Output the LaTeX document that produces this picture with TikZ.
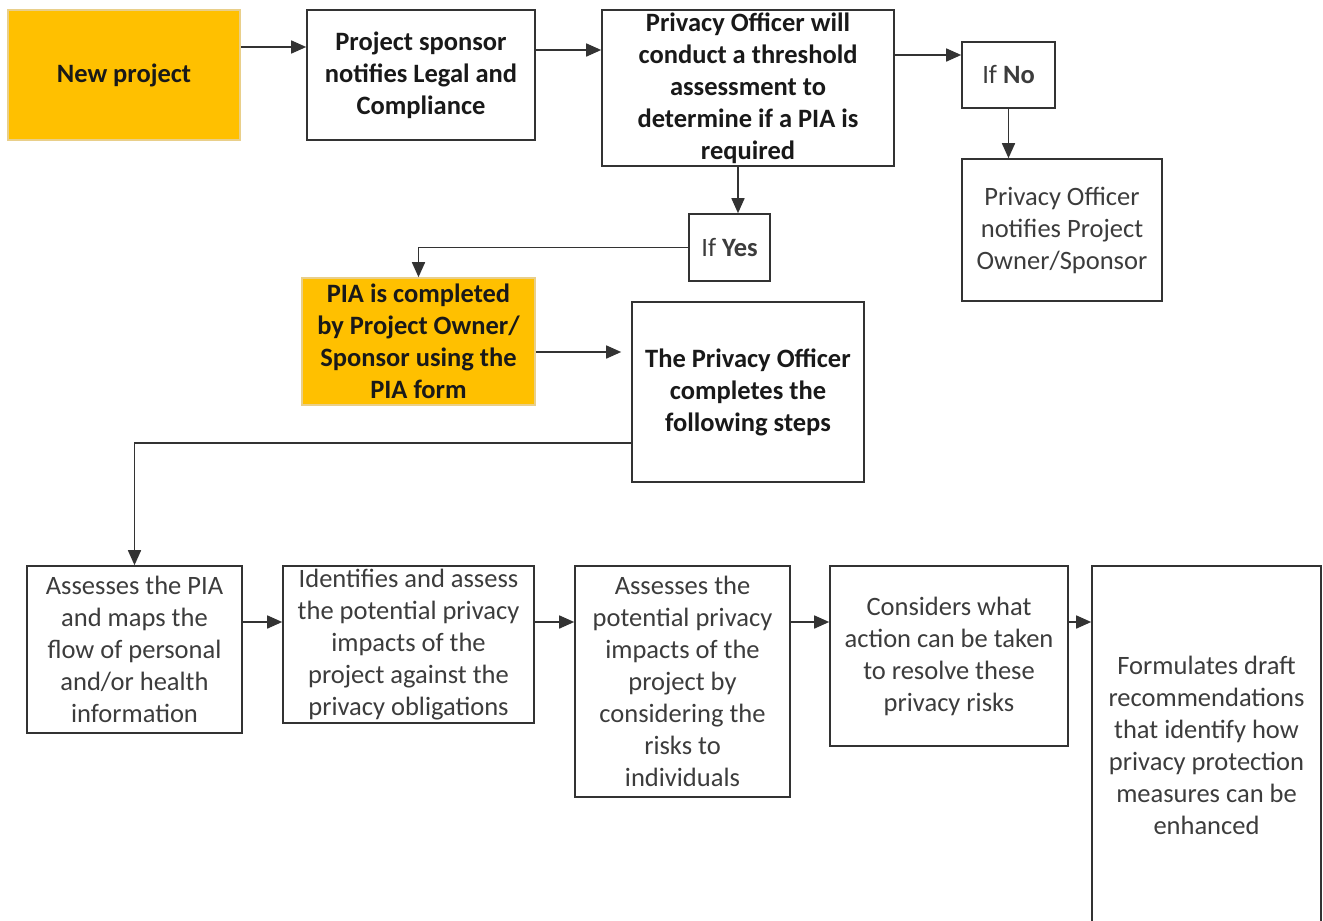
\documentclass[tikz,border=0pt]{standalone}
\usepackage{fontspec}
\setmainfont{Carlito}
\usetikzlibrary{arrows.meta}

\definecolor{piaorange}{HTML}{FFC000}
\definecolor{piaedge}{HTML}{E9CF8A}
\definecolor{lineclr}{HTML}{333333}
\definecolor{txtclr}{HTML}{3C3C3C}

\begin{document}
\begin{tikzpicture}[
    x=1pt, y=-1pt,
    box/.style={
        rectangle,
        draw=lineclr,
        line width=1.6pt,
        align=center,
        inner sep=0pt,
        text=txtclr,
        font=\fontsize{26.5}{32}\selectfont
    },
    boldbox/.style={
        box,
        text=black!90,
        font=\fontsize{26.5}{32}\selectfont\bfseries
    },
    highlight/.style={
        boldbox,
        fill=piaorange,
        draw=piaedge
    },
    edge/.style={
        line width=1.6pt,
        draw=lineclr,
        -{Triangle[length=15pt,width=13pt]}
    },
    every node/.style={box}
]

\useasboundingbox (0,0) rectangle (1323,921);
\fill[white] (0,0) rectangle (1323,921);
\clip (0,0) rectangle (1323,921);

% Nodes
\node[highlight, minimum width=232, minimum height=130] (new) at (124,75) {New project};
\node[boldbox, minimum width=228, minimum height=130] (sponsor) at (421,75)
    {Project sponsor\\notifies Legal and\\Compliance};
\node[boldbox, minimum width=292, minimum height=156] (threshold) at (748,88)
    {Privacy Officer will\\conduct a threshold\\assessment to\\determine if a PIA is\\required};

\node[minimum width=93, minimum height=66] (ifno) at (1008.5,75) {If \textbf{No}};
\node[minimum width=200, minimum height=142] (notify) at (1062,230)
    {Privacy Officer\\notifies Project\\Owner/Sponsor};

\node[minimum width=81, minimum height=67] (ifyes) at (729.5,247.5) {If \textbf{Yes}};
\node[highlight, minimum width=233, minimum height=127] (piaform) at (418.5,341.5)
    {PIA is completed\\by Project Owner/\\Sponsor using the\\PIA form};
\node[boldbox, minimum width=232, minimum height=180] (officer) at (748,392)
    {The Privacy Officer\\completes the\\following steps};

\node[minimum width=215, minimum height=167] (step1) at (134.5,649.5)
    {Assesses the PIA\\and maps the\\flow of personal\\and/or health\\information};
\node[minimum width=251, minimum height=157] (step2) at (408.5,644.5)
    {Identifies and assess\\the potential privacy\\impacts of the\\project against the\\privacy obligations};
\node[minimum width=215, minimum height=231] (step3) at (682.5,681.5)
    {Assesses the\\potential privacy\\impacts of the\\project by\\considering the\\risks to\\individuals};
\node[minimum width=238, minimum height=180] (step4) at (949,656)
    {Considers what\\action can be taken\\to resolve these\\privacy risks};
\node[minimum width=229, minimum height=358] (step5) at (1206.5,745)
    {Formulates draft\\recommendations\\that identify how\\privacy protection\\measures can be\\enhanced};

\coordinate (rowy) at (0,622);

% Edges
\draw[edge] ([yshift=28]new.east) -- ([yshift=28]sponsor.west);
\draw[edge] ([yshift=25]sponsor.east) -- ([yshift=38]threshold.west);
\draw[edge] ([yshift=33]threshold.east) -- ([yshift=20]ifno.west);
\draw[edge] (ifno.south) -- (ifno.south |- notify.north);

\draw[edge] ([xshift=-10]threshold.south) -- ([xshift=-10]threshold.south |- ifyes.north);
\draw[edge] (ifyes.west) -| (piaform.north);
\draw[edge, shorten >=10pt] ([yshift=-10.5]piaform.east) -- ([yshift=-10.5]piaform.east -| officer.west);

\draw[edge] ([yshift=-51]officer.west) -| (step1.north);
\draw[edge] (step1.east |- rowy) -- (step2.west |- rowy);
\draw[edge] (step2.east |- rowy) -- (step3.west |- rowy);
\draw[edge] (step3.east |- rowy) -- (step4.west |- rowy);
\draw[edge] (step4.east |- rowy) -- (step5.west |- rowy);

\end{tikzpicture}
\end{document}
